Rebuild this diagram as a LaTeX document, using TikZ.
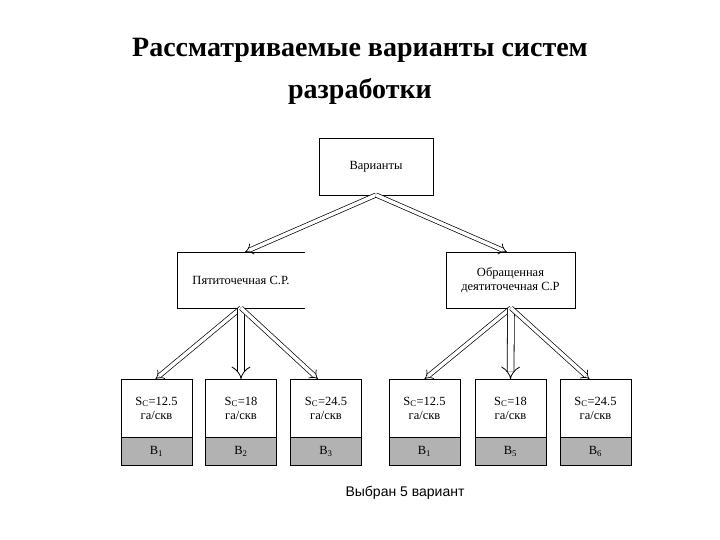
\documentclass[tikz,border=0pt]{standalone}
\usepackage{fontspec}
\setmainfont{Liberation Serif}
\newfontfamily\arialf{Liberation Sans}
\usetikzlibrary{arrows.meta}
\begin{document}
\begin{tikzpicture}[x=1pt,y=-1pt,
  dbl/.style={double,double distance=3.5pt,line width=0.7pt,-{Implies}},
  dblw/.style={double,double distance=6pt,line width=0.8pt,-{Implies}},
  txt/.style={font=\fontsize{12.5}{14.5}\selectfont,align=center}]
\useasboundingbox (0,0) rectangle (720,540);
\node[font=\bfseries\fontsize{28}{42}\selectfont,align=center] (title) at (360,71) {Рассматриваемые варианты систем\\разработки};
\node[draw,minimum width=114pt,minimum height=57pt,txt] (var) at (376,166.5) {Варианты};
\node[minimum width=128pt,minimum height=56pt,txt] (p5) at (241,280) {Пятиточечная С.Р.};
\draw (p5.north east)--(p5.north west)--(p5.south west)--(p5.south east);
\node[draw,minimum width=129pt,minimum height=56pt,txt] (p9) at (510.5,280) {Обращенная\\деятиточечная С.Р};
\foreach \n/\x/\s/\b in {a/156.5/12.5/1, b/241/18/2, c/326/24.5/3, d/424.5/12.5/1, e/510.5/18/5, f/595.5/24.5/6}{
  \node[draw,minimum width=71pt,minimum height=58pt,txt,anchor=north] (\n) at (\x,379) {S\textsubscript{C}=\s\\га/скв};
  \node[draw,fill=gray!60,minimum width=71pt,minimum height=28pt,anchor=north,txt] (\n g) at (\n.south) {В\textsubscript{\b}};
}
\coordinate (vs) at (376,195);
\coordinate (ps) at (241,308);
\coordinate (qs) at (511,308);
\draw[dbl] (vs) -- (245,252);
\draw[dbl] (vs) -- (507,252);
\draw[dbl] (ps) -- ([xshift=-1pt]a.north);
\draw[dblw] (ps) -- (b.north);
\draw[dbl] (ps) -- ([xshift=-8pt]c.north);
\draw[dbl] (qs) -- (d.north);
\draw[dblw] (qs) -- (e.north);
\draw[dbl] (qs) -- ([xshift=-6pt]f.north);
\node[font=\arialf\fontsize{14}{16}\selectfont] (sel) at (405,493) {Выбран 5 вариант};
\end{tikzpicture}
\end{document}
